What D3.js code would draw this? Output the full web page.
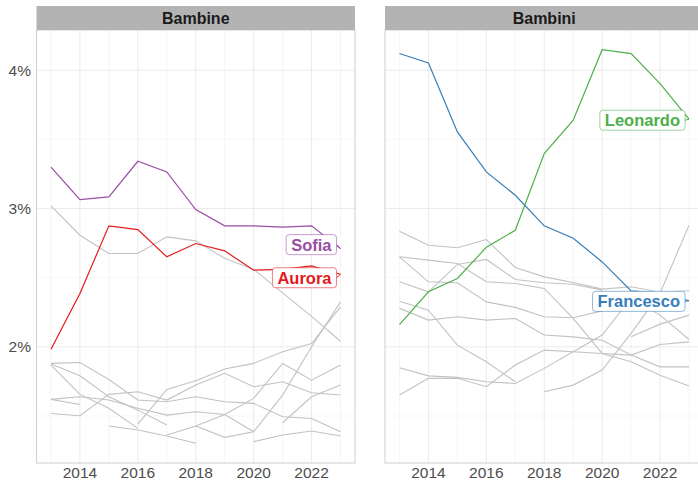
<!DOCTYPE html>
<html>
<head>
<meta charset="utf-8">
<script src="https://cdn.jsdelivr.net/npm/d3@7/dist/d3.min.js"></script>
<style>
  body { margin: 0; background: #fff; }
  svg { display: block; font-family: "Liberation Sans", Arial, sans-serif; }
</style>
</head>
<body>
<svg id="chart" width="698" height="481"></svg>
<script>
// Years on the x axis
const years = [2013, 2014, 2015, 2016, 2017, 2018, 2019, 2020, 2021, 2022, 2023];

// Highlighted names (share of births, %)
const sofia     = [3.30, 3.065, 3.084, 3.342, 3.265, 2.993, 2.875, 2.875, 2.865, 2.875, 2.71];
const aurora    = [1.983, 2.386, 2.875, 2.848, 2.651, 2.747, 2.694, 2.554, 2.56, 2.585, 2.525];
const leonardo  = [2.16, 2.398, 2.494, 2.72, 2.843, 3.398, 3.639, 4.149, 4.121, 3.904, 3.646];
const francesco = [4.121, 4.053, 3.554, 3.265, 3.096, 2.875, 2.785, 2.614, 2.405, 2.39, 2.333];

// Other top names, drawn in grey (null = not in the top list that year)
const otherGirls = [
  [3.02, 2.807, 2.675, 2.675, 2.795, 2.766, 2.64, 2.56, 2.39, 2.22, 2.04],
  [1.88, 1.887, 1.764, 1.615, 1.603, 1.639, 1.603, 1.591, 1.494, 1.482, 1.386],
  [1.875, 1.791, 1.639, 1.542, 1.434, null, null, null, null, null, null],
  [1.868, 1.656, 1.555, 1.41, null, null, null, null, null, null, null],
  [1.62, 1.639, 1.615, 1.555, 1.506, 1.53, 1.511, 1.386, null, null, null],
  [1.62, 1.583, null, null, null, null, null, null, null, null, null],
  [1.518, 1.501, 1.656, 1.675, 1.615, 1.723, 1.808, 1.711, 1.747, 1.668, 1.651],
  [null, null, 1.427, 1.398, 1.355, 1.302, null, 1.314, 1.362, 1.391, 1.355],
  [null, null, null, 1.441, 1.692, 1.754, 1.839, 1.88, 1.964, 2.024, 2.289],
  [null, null, null, null, 1.362, 1.427, 1.511, 1.627, 1.88, 1.759, 1.868],
  [null, null, null, null, null, 1.427, 1.345, 1.386, 1.651, 2.0, 2.325],
  [null, null, null, null, null, null, null, null, 1.451, 1.639, 1.723]
];
const otherBoys = [
  [2.836, 2.735, 2.716, 2.776, 2.574, 2.506, 2.465, 2.417, 2.434, 2.395, 2.405],
  [2.651, 2.627, 2.603, 2.47, 2.458, 2.422, 2.205, 1.952, 1.892, 1.795, 1.716],
  [2.651, 2.47, 2.463, 2.325, 2.285, 2.217, 2.21, 2.26, 2.338, null, null],
  [2.47, 2.398, 2.596, 2.632, 2.487, 2.463, 2.453, 2.41, null, null, null],
  [2.33, 2.265, 2.012, 1.892, 1.747, null, null, null, null, null, null],
  [2.278, 2.193, 2.217, 2.193, 2.205, 2.085, 2.072, 2.048, 1.94, 1.855, 1.855],
  [1.848, 1.79, 1.779, 1.747, 1.735, 1.844, 1.964, 2.085, 2.352, 2.229, 2.053],
  [1.651, 1.772, 1.772, 1.711, 1.868, 1.976, 1.964, 1.952, 1.94, 2.017, 2.036],
  [null, null, null, null, null, 1.675, 1.723, 1.832, 2.097, 2.388, 2.88],
  [null, null, null, null, null, null, null, null, 2.072, 2.164, 2.229]
];

const svg = d3.select("#chart");

// layout of the two facets
const panelTop = 30, panelBottom = 463, panelWidth = 318.5;
const stripTop = 6;

// shared y scale, ggplot-like 5% expansion
const allValues = [sofia, aurora, leonardo, francesco, ...otherGirls, ...otherBoys]
  .flat().filter(v => v != null);
const [vMin, vMax] = d3.extent(allValues);
const yPad = (vMax - vMin) * 0.05;
const y = d3.scaleLinear().domain([vMin - yPad, vMax + yPad]).range([panelBottom, panelTop]);

const [yrMin, yrMax] = d3.extent(years);
const xPad = (yrMax - yrMin) * 0.05;

function drawPanel(left, title, others, highlights, showY) {
  const x = d3.scaleLinear().domain([yrMin - xPad, yrMax + xPad]).range([left, left + panelWidth]);
  const g = svg.append("g");

  // grid
  const yMajor = y.ticks(3);
  const yMinor = y.ticks(6).filter(v => !yMajor.includes(v));
  const xMajor = x.ticks(5);
  const xMinor = x.ticks(10).filter(v => !xMajor.includes(v));

  g.selectAll(".ymin").data(yMinor).enter().append("line")
    .attr("x1", left).attr("x2", left + panelWidth)
    .attr("y1", d => y(d)).attr("y2", d => y(d))
    .attr("stroke", "#f2f2f2").attr("stroke-width", 0.6);
  g.selectAll(".xmin").data(xMinor).enter().append("line")
    .attr("x1", d => x(d)).attr("x2", d => x(d))
    .attr("y1", panelTop).attr("y2", panelBottom)
    .attr("stroke", "#efefef").attr("stroke-width", 0.6);
  g.selectAll(".ymaj").data(yMajor).enter().append("line")
    .attr("x1", left).attr("x2", left + panelWidth)
    .attr("y1", d => y(d)).attr("y2", d => y(d))
    .attr("stroke", "#e6e6e6").attr("stroke-width", 0.8);
  g.selectAll(".xmaj").data(xMajor).enter().append("line")
    .attr("x1", d => x(d)).attr("x2", d => x(d))
    .attr("y1", panelTop).attr("y2", panelBottom)
    .attr("stroke", "#e6e6e6").attr("stroke-width", 0.8);

  const line = d3.line()
    .defined(d => d[1] != null)
    .x(d => x(d[0]))
    .y(d => y(d[1]));

  // grey lines
  g.selectAll(".other").data(others).enter().append("path")
    .attr("d", vals => line(years.map((yr, i) => [yr, vals[i]])))
    .attr("fill", "none")
    .attr("stroke", "#c2c2c2")
    .attr("stroke-width", 1.1);

  // highlighted lines
  highlights.forEach(h => {
    g.append("path")
      .attr("d", line(years.map((yr, i) => [yr, h.values[i]])))
      .attr("fill", "none")
      .attr("stroke", h.color)
      .attr("stroke-width", 1.2);
  });

  // panel border
  g.append("rect")
    .attr("x", left).attr("y", panelTop)
    .attr("width", panelWidth).attr("height", panelBottom - panelTop)
    .attr("fill", "none").attr("stroke", "#cfcfcf").attr("stroke-width", 1);

  // strip
  g.append("rect")
    .attr("x", left).attr("y", stripTop)
    .attr("width", panelWidth).attr("height", panelTop - stripTop)
    .attr("fill", "#b3b3b3");
  g.append("text")
    .attr("x", left + panelWidth / 2).attr("y", (stripTop + panelTop) / 2)
    .attr("dy", "0.35em")
    .attr("text-anchor", "middle")
    .attr("font-size", 16).attr("font-weight", "bold")
    .attr("fill", "#1a1a1a")
    .text(title);

  // x axis labels
  g.selectAll(".xl").data(xMajor).enter().append("text")
    .attr("x", d => x(d)).attr("y", 478)
    .attr("text-anchor", "middle")
    .attr("font-size", 15.5).attr("fill", "#4d4d4d")
    .text(d => d);

  if (showY) {
    g.selectAll(".yl").data(yMajor).enter().append("text")
      .attr("x", left - 5.5).attr("y", d => y(d))
      .attr("dy", "0.35em")
      .attr("text-anchor", "end")
      .attr("font-size", 15.5).attr("fill", "#4d4d4d")
      .text(d => d + "%");
  }

  // repelled-style labels at the end of each highlighted line
  const last = years.length - 1;
  highlights.forEach(h => {
    const ex = x(years[last]), ey = y(h.values[last]);
    const lg = g.append("g");
    const t = lg.append("text")
      .attr("font-size", 16.5).attr("font-weight", "bold")
      .attr("fill", h.color)
      .attr("text-anchor", "middle")
      .attr("dy", "0.36em")
      .text(h.name);
    const w = t.node().getComputedTextLength();
    const bw = w + 10, bh = 20;
    const right = ex - 4, cy = ey + h.dy;
    lg.insert("line", "text")
      .attr("x1", right).attr("x2", ex).attr("y1", cy).attr("y2", ey)
      .attr("stroke", h.color).attr("stroke-width", 1);
    lg.insert("rect", "text")
      .attr("x", right - bw).attr("y", cy - bh / 2)
      .attr("width", bw).attr("height", bh)
      .attr("rx", 3)
      .attr("fill", "#fff")
      .attr("stroke", h.color).attr("stroke-opacity", 0.55).attr("stroke-width", 1);
    t.attr("x", right - bw / 2).attr("y", cy);
  });
}

drawPanel(36.5, "Bambine", otherGirls, [
  { name: "Sofia", values: sofia, color: "#984EA3", dy: -4 },
  { name: "Aurora", values: aurora, color: "#E41A1C", dy: 3.5 }
], true);

drawPanel(385, "Bambini", otherBoys, [
  { name: "Leonardo", values: leonardo, color: "#4DAF4A", dy: 1 },
  { name: "Francesco", values: francesco, color: "#377EB8", dy: 0.6 }
], false);
</script>
</body>
</html>
